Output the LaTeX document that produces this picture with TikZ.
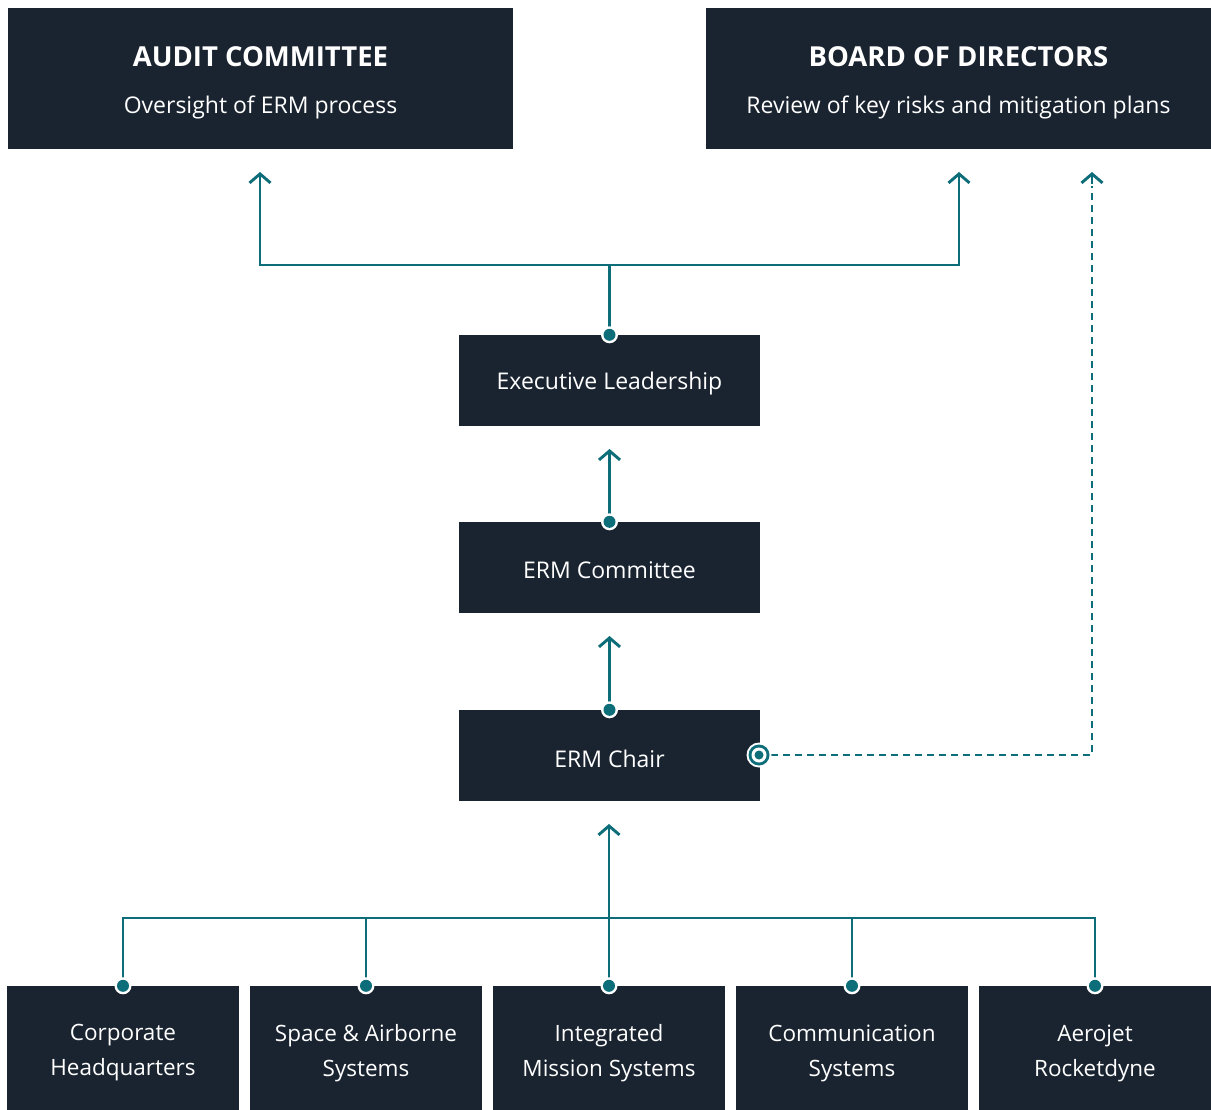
\documentclass[tikz,border=0pt]{standalone}
\usepackage{fontspec}
\setmainfont{Open Sans}
\usetikzlibrary{arrows.meta}
\definecolor{navy}{HTML}{1A2430}
\definecolor{tealline}{HTML}{0D6E7A}
\tikzset{
  box/.style={fill=navy, text=white, inner sep=0pt, align=center},
  link/.style={draw=tealline, line width=2.9pt},
  uparrow/.style={link, -{Straight Barb[length=9pt,width=21pt,line width=2.9pt]}},
  dashlink/.style={link, dash pattern=on 7pt off 5pt},
  title/.style={text=white, font=\bfseries\fontsize{27.5}{32}\selectfont},
  label/.style={text=white, font=\fontsize{23}{27}\selectfont},
}
\newcommand{\joint}[1]{%
  \fill[white] (#1) circle (8.5pt);
  \fill[tealline] (#1) circle (6pt);}
\newcommand{\ringjoint}[1]{%
  \fill[white] (#1) circle (12.5pt);
  \fill[tealline] (#1) circle (10.5pt);
  \fill[white] (#1) circle (7.5pt);
  \fill[tealline] (#1) circle (4.5pt);}
\begin{document}
\begin{tikzpicture}[x=1pt,y=-1pt]
\useasboundingbox (0,0) rectangle (1211,1110);
\fill[white] (0,0) rectangle (1211,1110);

% top-level boxes
\node[box, minimum width=505pt, minimum height=141pt] (audit) at (260.5,78.5) {};
\node[title] at (260.5,57) {AUDIT COMMITTEE};
\node[label] at (260.5,107) {Oversight of ERM process};

\node[box, minimum width=505pt, minimum height=141pt] (board) at (958.5,78.5) {};
\node[title] at (958.5,57) {BOARD OF DIRECTORS};
\node[label] at (958.5,107) {Review of key risks and mitigation plans};

% middle chain
\tikzset{mid/.style={box, minimum width=301pt, minimum height=91pt}}
\node[mid] (exec) at (609.5,380.5) {};
\node[mid] (comm) at (609.5,567.5) {};
\node[mid] (chair) at (609.5,755.5) {};
\node[label] at (609.5,384) {Executive Leadership};
\node[label] at (609.5,570) {ERM Committee};
\node[label] at (609.5,759) {ERM Chair};

% business units
\tikzset{unit/.style={box, minimum width=232pt, minimum height=124pt},
         unittext/.style={text=white, align=center, font=\fontsize{22.5}{35}\selectfont}}
\node[unit] (hq)  at (123,1048) {};
\node[unit] (sas) at (366,1048) {};
\node[unit] (ims) at (609,1048) {};
\node[unit] (cs)  at (852,1048) {};
\node[unit] (ar)  at (1095,1048) {};
\node[unittext] at (123,1053) {Corporate\\Headquarters};
\node[unittext] at (366,1053) {Space \& Airborne\\Systems};
\node[unittext] at (609,1053) {Integrated\\Mission Systems};
\node[unittext] at (852,1053) {Communication\\Systems};
\node[unittext] at (1095,1053) {Aerojet\\Rocketdyne};

% arrow targets
\coordinate (auditIn) at (260,172);
\coordinate (boardIn) at (959,172);
\coordinate (boardDash) at (1092,172);
\coordinate (execIn) at (609.5,449);
\coordinate (commIn) at (609.5,636);
\coordinate (chairIn) at (609,824);

% executive leadership reports to both committees
\draw[link] (exec.north) -- (609.5,265);
\draw[uparrow] (609.5,265) -| (auditIn);
\draw[uparrow] (609.5,265) -| (boardIn);

% chain upward
\draw[uparrow] (comm.north) -- (execIn);
\draw[uparrow] (chair.north) -- (commIn);

% business units to ERM chair
\draw[link] (hq.north) -- (123,918) -- (1095,918) -- (ar.north);
\draw[link] (sas.north) -- (366,918);
\draw[link] (cs.north) -- (852,918);
\draw[uparrow] (ims.north) -- (chairIn);

% direct line from ERM chair to the board
\draw[dashlink] (759,755) -- (1092,755) -- (1092,186);
\draw[uparrow] (1092,184) -- (boardDash);

% joints
\joint{exec.north}
\joint{comm.north}
\joint{chair.north}
\joint{hq.north}
\joint{sas.north}
\joint{ims.north}
\joint{cs.north}
\joint{ar.north}
\ringjoint{759,755}
\end{tikzpicture}
\end{document}
